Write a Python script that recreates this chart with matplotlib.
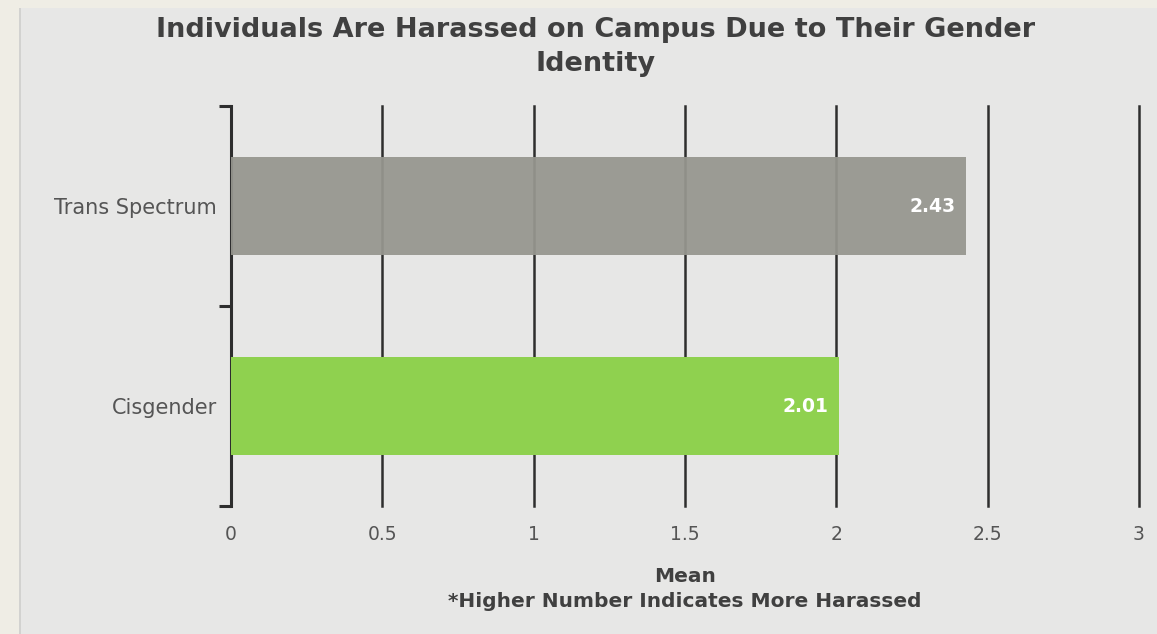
import matplotlib
matplotlib.use("Agg")
import matplotlib.pyplot as plt
from matplotlib.patches import Rectangle

# Data
categories = ["Trans Spectrum", "Cisgender"]
means = [2.43, 2.01]
bar_colors = ["#96968F", "#8FD14F"]
bar_alphas = [0.94, 1.0]
xticks = [0, 0.5, 1, 1.5, 2, 2.5, 3]
xtick_labels = ["0", "0.5", "1", "1.5", "2", "2.5", "3"]

title = "Individuals Are Harassed on Campus Due to Their Gender\nIdentity"
xlabel = "Mean\n*Higher Number Indicates More Harassed"

plt.rcParams["font.family"] = ["DejaVu Sans"]

fig = plt.figure(figsize=(11.57, 6.34), dpi=100)
fig.patch.set_facecolor("#EFEDE5")

# Inner light-gray panel with a soft left edge
panel = Rectangle((20 / 1157, 0), 1 - 20 / 1157, 1 - 8 / 634,
                  transform=fig.transFigure, facecolor="#E7E7E6",
                  edgecolor="none", zorder=-2)
fig.patches.append(panel)
shade = Rectangle((19 / 1157, 0), 2 / 1157, 1 - 8 / 634,
                  transform=fig.transFigure, facecolor="#D2D2D0",
                  edgecolor="none", zorder=-1)
fig.patches.append(shade)

ax = fig.add_axes([231 / 1157, 1 - 506 / 634, (1139 - 231) / 1157, 400 / 634])
ax.set_facecolor("none")

ypos = list(range(len(categories)))
for y, v, c, a in zip(ypos, means, bar_colors, bar_alphas):
    ax.barh(y, v, height=0.49, color=c, alpha=a, zorder=3, linewidth=0)
    ax.text(v - 0.035, y, f"{v:.2f}", ha="right", va="center",
            color="white", fontsize=13.5, fontweight="bold", zorder=4)

ax.set_xlim(0, 3)
ax.set_ylim(1.5, -0.5)

# Vertical grid lines
for x in xticks[1:]:
    ax.axvline(x, color="#2E2E2E", linewidth=1.8, zorder=1, clip_on=False)

for s in ["top", "right", "bottom"]:
    ax.spines[s].set_visible(False)
ax.spines["left"].set_color("#2E2E2E")
ax.spines["left"].set_linewidth(2.2)
ax.spines["left"].set_zorder(1)

ax.set_yticks([-0.5, 0.5, 1.5], minor=False)
ax.set_yticklabels([])
ax.tick_params(axis="y", which="major", length=9, width=2.2, color="#2E2E2E")
ax.set_yticks(ypos, minor=True)
ax.set_yticklabels(categories, minor=True)
ax.tick_params(axis="y", which="minor", length=0, pad=10,
               labelsize=15, labelcolor="#555555")

ax.set_xticks(xticks)
ax.set_xticklabels(xtick_labels)
ax.tick_params(axis="x", length=0, pad=14, labelsize=13.5, labelcolor="#555555")

ax.set_xlabel(xlabel, fontsize=14.5, fontweight="bold", color="#404040",
              labelpad=16, linespacing=1.45)

fig.text(596 / 1157, 1 - 17 / 634, title, ha="center", va="top",
         fontsize=19.5, fontweight="bold", color="#404040", linespacing=1.42)

fig.savefig("out.png", dpi=100, facecolor=fig.get_facecolor())
